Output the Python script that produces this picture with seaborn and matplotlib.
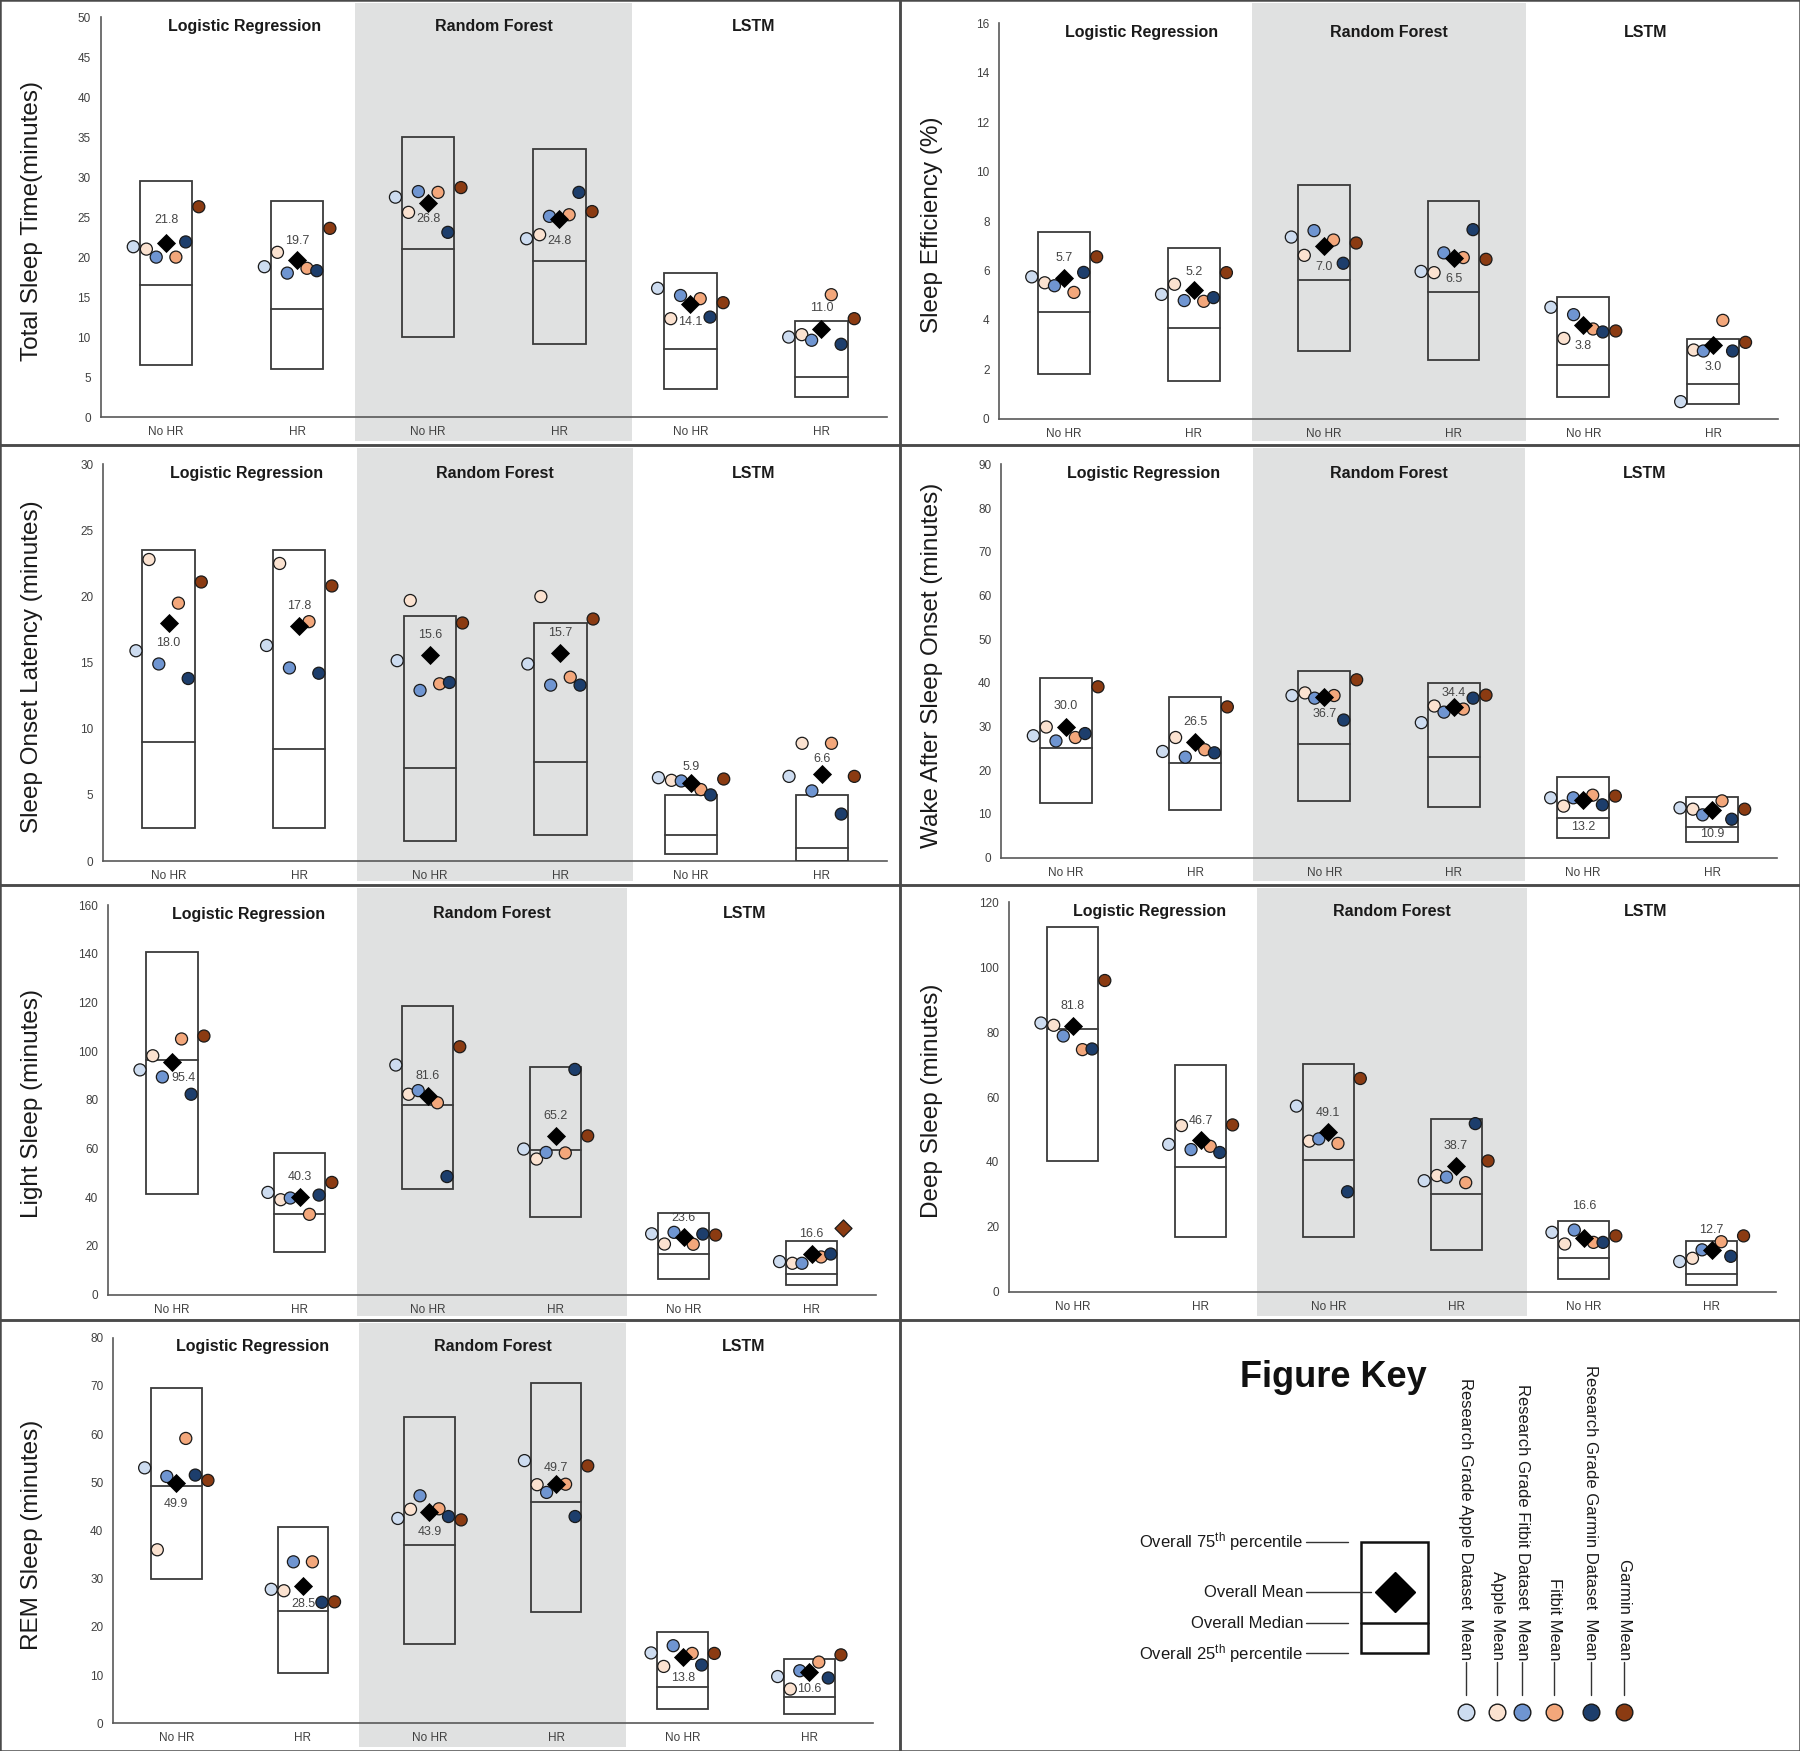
import numpy as np
import pandas as pd
import matplotlib
matplotlib.use("Agg")
import matplotlib.pyplot as plt
import matplotlib.transforms as mtransforms
from matplotlib.patches import Rectangle
import seaborn as sns

sns.set_style("white")
plt.rcParams["font.family"] = ["Liberation Sans", "DejaVu Sans"]
plt.rcParams["mathtext.default"] = "regular"

W, H = 1800, 1751

groups = ["No HR", "HR", "No HR", "HR", "No HR", "HR"]
models = ["Logistic Regression", "Random Forest", "LSTM"]
sources = [
    "Research Grade Apple Dataset  Mean",
    "Apple Mean",
    "Research Grade Fitbit Dataset  Mean",
    "Fitbit Mean",
    "Research Grade Garmin Dataset  Mean",
    "Garmin Mean",
]
source_colors = ["#cddcf0", "#fbe2d0", "#6f95d1", "#f3a77b", "#1d3e6c", "#8b3b12"]

# ---- Total sleep time
tst_p75 = [29.5, 27.0, 35.0, 33.5, 18.0, 12.0]
tst_median = [16.5, 13.5, 21.0, 19.5, 8.5, 5.0]
tst_p25 = [6.5, 6.0, 10.0, 9.1, 3.5, 2.5]
tst_mean = [21.8, 19.7, 26.8, 24.8, 14.1, 11.0]
tst_sources = [
    [21.3, 18.8, 27.5, 22.3, 16.1, 10.0],
    [21.0, 20.6, 25.6, 22.8, 12.3, 10.3],
    [20.0, 18.0, 28.2, 25.1, 15.2, 9.6],
    [20.0, 18.6, 28.1, 25.3, 14.8, 15.3],
    [21.9, 18.3, 23.1, 28.1, 12.5, 9.1],
    [26.3, 23.6, 28.7, 25.7, 14.3, 12.3],
]

# ---- Sleep efficiency
se_p75 = [7.57, 6.9, 9.46, 8.8, 4.93, 3.24]
se_median = [4.33, 3.68, 5.61, 5.14, 2.19, 1.39]
se_p25 = [1.79, 1.52, 2.75, 2.38, 0.89, 0.58]
se_mean = [5.7, 5.2, 7.0, 6.5, 3.8, 3.0]
se_sources = [
    [5.74, 5.03, 7.35, 5.96, 4.51, 0.69],
    [5.50, 5.44, 6.61, 5.91, 3.25, 2.78],
    [5.38, 4.78, 7.61, 6.71, 4.21, 2.74],
    [5.11, 4.75, 7.23, 6.52, 3.63, 3.98],
    [5.92, 4.90, 6.29, 7.65, 3.51, 2.74],
    [6.55, 5.91, 7.11, 6.45, 3.55, 3.09],
]

# ---- Sleep onset latency
sol_p75 = [23.5, 23.5, 18.5, 18.0, 5.0, 5.0]
sol_median = [9.0, 8.5, 7.0, 7.5, 2.0, 1.0]
sol_p25 = [2.5, 2.5, 1.5, 2.0, 0.5, 0.0]
sol_mean = [18.0, 17.8, 15.6, 15.7, 5.9, 6.6]
sol_sources = [
    [15.9, 16.3, 15.15, 14.9, 6.3, 6.4],
    [22.8, 22.5, 19.7, 20.0, 6.1, 8.9],
    [14.9, 14.6, 12.9, 13.3, 6.05, 5.3],
    [19.5, 18.1, 13.4, 13.9, 5.4, 8.9],
    [13.8, 14.2, 13.5, 13.3, 5.0, 3.55],
    [21.1, 20.8, 18.0, 18.3, 6.2, 6.4],
]

# ---- Wake after sleep onset
waso_p75 = [41.0, 36.8, 42.6, 40.0, 18.5, 14.0]
waso_median = [25.0, 21.6, 26.0, 23.0, 9.0, 7.1]
waso_p25 = [12.5, 10.8, 13.0, 11.5, 4.4, 3.5]
waso_mean = [30.0, 26.5, 36.7, 34.4, 13.2, 10.9]
waso_sources = [
    [27.9, 24.3, 37.1, 30.9, 13.7, 11.4],
    [29.9, 27.5, 37.7, 34.7, 11.8, 11.1],
    [26.7, 23.0, 36.5, 33.3, 13.7, 9.8],
    [27.5, 24.7, 37.1, 34.0, 14.3, 13.0],
    [28.4, 24.0, 31.5, 36.5, 12.1, 8.8],
    [39.1, 34.5, 40.7, 37.2, 14.1, 11.1],
]

# ---- Light sleep
light_p75 = [140.7, 58.3, 118.5, 93.6, 33.5, 22.0]
light_median = [96.4, 33.0, 77.7, 59.4, 16.6, 8.5]
light_p25 = [41.5, 17.5, 43.5, 32.0, 6.4, 4.0]
light_mean = [95.4, 40.3, 81.6, 65.2, 23.6, 16.6]
light_sources = [
    [92.3, 42.0, 94.3, 59.8, 25.0, 13.6],
    [98.1, 39.0, 82.3, 55.7, 20.8, 12.9],
    [89.4, 39.7, 83.8, 58.4, 25.6, 12.9],
    [105.0, 33.0, 78.8, 58.2, 20.7, 15.5],
    [82.3, 40.9, 48.5, 92.5, 24.9, 16.7],
    [106.2, 46.1, 101.8, 65.2, 24.5, 27.2],
]

# ---- Deep sleep
deep_p75 = [112.4, 69.9, 70.3, 53.3, 21.9, 15.7]
deep_median = [80.9, 38.3, 40.7, 30.2, 10.3, 5.5]
deep_p25 = [40.4, 17.0, 17.0, 12.9, 3.9, 2.0]
deep_mean = [81.8, 46.7, 49.1, 38.7, 16.6, 12.7]
deep_sources = [
    [82.8, 45.4, 57.2, 34.2, 18.3, 9.3],
    [82.1, 51.2, 46.4, 35.8, 14.7, 10.3],
    [78.8, 43.8, 47.1, 35.3, 19.0, 12.9],
    [74.6, 44.8, 45.7, 33.6, 15.2, 15.4],
    [74.8, 42.9, 30.8, 51.8, 15.2, 10.9],
    [95.9, 51.4, 65.7, 40.3, 17.2, 17.2],
]

# ---- REM sleep
rem_p75 = [69.6, 40.8, 63.5, 70.5, 19.0, 13.4]
rem_median = [49.3, 23.4, 37.0, 46.0, 7.5, 5.5]
rem_p25 = [30.0, 10.5, 16.5, 23.1, 3.0, 1.9]
rem_mean = [49.9, 28.5, 43.9, 49.7, 13.8, 10.6]
rem_sources = [
    [53.0, 27.8, 42.5, 54.5, 14.6, 9.7],
    [36.0, 27.5, 44.4, 49.5, 11.8, 7.1],
    [51.2, 33.5, 47.2, 47.9, 16.1, 10.9],
    [59.1, 33.5, 44.5, 49.6, 14.5, 12.7],
    [51.5, 25.1, 42.9, 42.9, 12.1, 9.4],
    [50.4, 25.2, 42.2, 53.4, 14.5, 14.2],
]

# layout: vertical pixel shift of each mean label, axes box and grid cell in pixels
offsets = [-0.25, -0.15, -0.075, 0.075, 0.15, 0.25]
rows_px = [0, 445, 885, 1320, 1751]
panels = [
    ("Total Sleep Time(minutes)", 50, 5, tst_p25, tst_median, tst_p75, tst_mean, tst_sources,
     [23, 19, -16, -22, -18, 21], (100.5, 17.3, 887, 417), (0, 0), None),
    ("Sleep Efficiency (%)", 16, 2, se_p25, se_median, se_p75, se_mean, se_sources,
     [20, 18, -21, -21, -21, -22], (999.3, 23.3, 1778, 418.7), (0, 1), None),
    ("Sleep Onset Latency (minutes)", 30, 5, sol_p25, sol_median, sol_p75, sol_mean, sol_sources,
     [-20, 20, 20, 20, 16, 15], (103.3, 464.3, 887, 861), (1, 0), None),
    ("Wake After Sleep Onset (minutes)", 90, 10, waso_p25, waso_median, waso_p75, waso_mean, waso_sources,
     [21, 20, -17, 14, -27, -24], (1001, 464.3, 1777, 857.7), (1, 1), None),
    ("Light Sleep (minutes)", 160, 20, light_p25, light_median, light_p75, light_mean, light_sources,
     [-16, 20, 20, 20, 19, 20], (108, 905, 875.5, 1294.7), (2, 0), (5, 5)),
    ("Deep Sleep (minutes)", 120, 20, deep_p25, deep_median, deep_p75, deep_mean, deep_sources,
     [20, 19, 19, 20, 32, 20], (1009, 902.3, 1775.5, 1291.7), (2, 1), None),
    ("REM Sleep (minutes)", 80, 10, rem_p25, rem_median, rem_p75, rem_mean, rem_sources,
     [-21, -18, -20, 16, -21, -17], (113, 1337.7, 872.6, 1723.3), (3, 0), None),
]

fig = plt.figure(figsize=(W / 100, H / 100), dpi=100)
band = "#e0e1e1"
edge = "#3a3a3a"
palette = dict(zip(sources, source_colors))

for pi, (ylabel, ymax, step, p25, med, p75, mean, dots, label_dy, box, cell, odd) in enumerate(panels):
    l, t, r, b = box
    row, col = cell
    ax = fig.add_axes([l / W, 1 - b / H, (r - l) / W, (b - t) / H])
    ax.set_facecolor("white")
    ax.set_xlim(-0.5, 5.5)
    ax.set_ylim(0, ymax)

    # grey band behind the Random Forest columns, full cell height
    ctop, cbot = rows_px[row], rows_px[row + 1]
    trans = mtransforms.blended_transform_factory(ax.transData, fig.transFigure)
    ax.add_patch(Rectangle((1.445, 1 - (cbot - 4) / H), 3.555 - 1.445, (cbot - ctop - 7) / H,
                           transform=trans, facecolor=band, edgecolor="none",
                           clip_on=False, zorder=0))

    x = np.arange(6)
    for i in x:
        ax.add_patch(Rectangle((i - 0.2, p25[i]), 0.4, p75[i] - p25[i], fill=False,
                               edgecolor=edge, lw=1.3, zorder=2))
        ax.plot([i - 0.2, i + 0.2], [med[i], med[i]], color=edge, lw=1.3, zorder=2)

    recs = []
    for k, (s, vals) in enumerate(zip(sources, dots)):
        for i, v in enumerate(vals):
            shape = "D" if odd == (k, i) else "o"
            recs.append({"source": s, "x": i + offsets[k], "value": v, "shape": shape})
    df = pd.DataFrame(recs)
    sns.scatterplot(data=df, x="x", y="value", hue="source", hue_order=sources,
                    palette=palette, style="shape", markers={"o": "o", "D": "D"},
                    s=75, edgecolor="#1a1a1a", linewidth=0.9, legend=False, ax=ax, zorder=3)
    sns.scatterplot(x=x, y=mean, marker="D", color="black", s=95, linewidth=0,
                    ax=ax, zorder=4)
    for i in x:
        dx = 8 if (pi == 4 and i == 0) else 0
        ax.annotate(f"{mean[i]:.1f}", (i, mean[i]), xytext=(dx, 0.72 * label_dy[i]),
                    textcoords="offset points", ha="center", va="center",
                    fontsize=9, color="#454545", zorder=5)

    tt = mtransforms.blended_transform_factory(ax.transData, ax.transAxes)
    for m, mx in zip(models, [0.6, 2.5, 4.48]):
        ax.text(mx, 1 - 9 / (b - t), m, transform=tt, ha="center", va="center",
                fontsize=11.5, fontweight="bold", color="#1a1a1a")

    ax.set_xticks(x)
    ax.set_xticklabels(groups)
    ax.set_yticks(np.arange(0, ymax + step / 2, step))
    ax.set_xlabel("")
    ax.set_ylabel(ylabel, fontsize=17.5, color="#1a1a1a")
    ax.yaxis.set_label_coords((43 + col * 900 - l) / (r - l), 0.5 - 4 / (b - t))
    ax.tick_params(length=0, labelsize=8.5, colors="#404040")
    ax.tick_params(axis="y", pad=7)
    ax.tick_params(axis="x", pad=6.5)
    sns.despine(ax=ax)
    for sp in ("left", "bottom"):
        ax.spines[sp].set_color("#595959")
        ax.spines[sp].set_linewidth(1.2)
        ax.spines[sp].set_zorder(1)

# ---- figure key (bottom-right cell), laid out in cell pixel units
ak = fig.add_axes([900 / W, 0, 900 / W, 431 / H])
ak.set_xlim(0, 900)
ak.set_ylim(431, 0)
ak.axis("off")
ak.text(433, 67, "Figure Key", ha="center", va="baseline", fontsize=26,
        fontweight="bold", color="#111111")
ak.add_patch(Rectangle((461, 221.7), 67, 111.6, fill=False, edgecolor="#111111", lw=1.8))
ak.plot([461, 528], [303.3, 303.3], color="#111111", lw=1.8)
ak.plot([494.8], [272.3], marker="D", markersize=20, color="black")
key_rows = [
    ("Overall 75$^{th}$ percentile", 221.7, 447.8),
    ("Overall Mean", 272.3, 470.7),
    ("Overall Median", 303.3, 447.8),
    ("Overall 25$^{th}$ percentile", 333.3, 447.8),
]
for txt, yy, xe in key_rows:
    ak.text(403.6, yy, txt, ha="right", va="center", fontsize=12, color="#1a1a1a")
    ak.plot([406.4, xe], [yy, yy], color="#333333", lw=1)

key_x = [566, 597, 622.3, 654.4, 691, 724]
for xx, s, c in zip(key_x, sources, source_colors):
    ak.text(xx, 340, s, rotation=-90, ha="center", va="bottom", fontsize=12, color="#1a1a1a")
    ak.plot([xx, xx], [342, 375], color="#333333", lw=1)
    ak.scatter([xx], [391.7], s=144, color=c, edgecolors="#1a1a1a", linewidths=1, zorder=3)

# cell borders
for r0, r1 in zip(rows_px[:-1], rows_px[1:]):
    for c0, c1 in [(0, 900), (900, 1800)]:
        fig.add_artist(Rectangle((c0 / W, 1 - r1 / H), (c1 - c0) / W, (r1 - r0) / H,
                                 transform=fig.transFigure, fill=False,
                                 edgecolor="#4a4a4a", lw=1.8))

fig.savefig("out.png", dpi=100)
